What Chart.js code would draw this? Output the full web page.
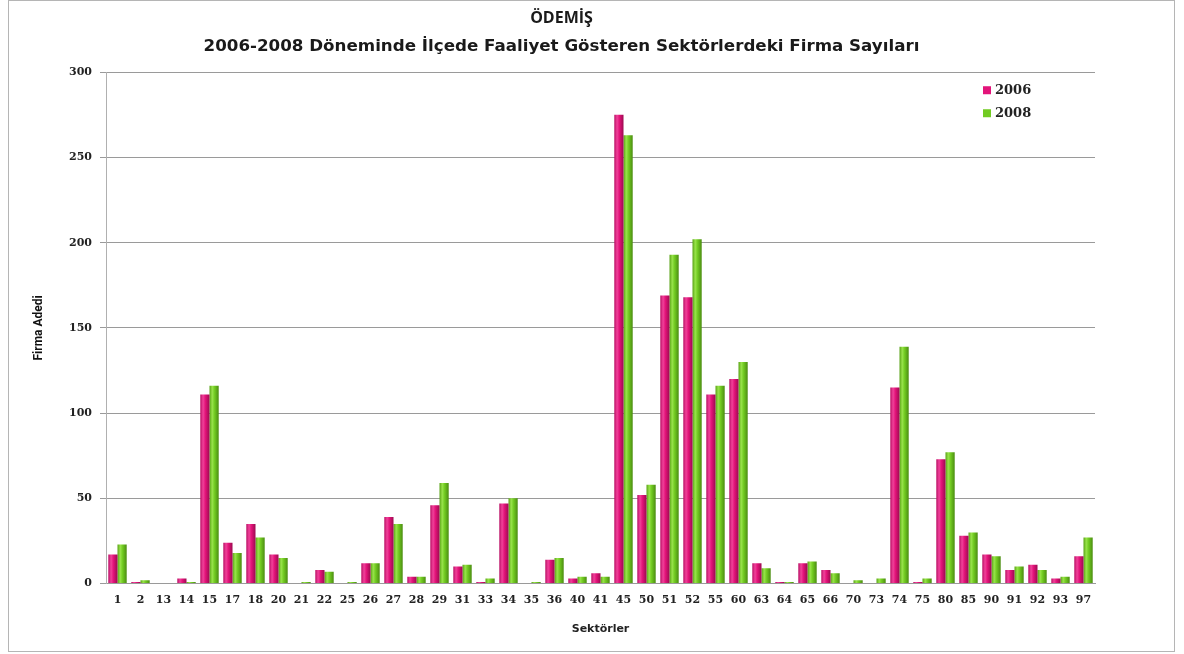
<!DOCTYPE html>
<html>
<head>
<meta charset="utf-8">
<script src="https://cdn.jsdelivr.net/npm/chart.js@4"></script>
<style>
  html, body { margin: 0; padding: 0; background: #fff; }
  #wrap { width: 1184px; height: 654px; }
</style>
</head>
<body>
<div id="wrap"><canvas id="myChart" width="1184" height="654"></canvas></div>
<script>
// sector codes on the x axis
const sectors = ['1', '2', '13', '14', '15', '17', '18', '20', '21', '22', '25', '26', '27', '28', '29',
  '31', '33', '34', '35', '36', '40', '41', '45', '50', '51', '52', '55', '60', '63', '64', '65',
  '66', '70', '73', '74', '75', '80', '85', '90', '91', '92', '93', '97'];

// number of firms per sector
const firms2006 = [17, 1, 0, 3, 111, 24, 35, 17, 0, 8, 0, 12, 39, 4, 46,
  10, 1, 47, 0, 14, 3, 6, 275, 52, 169, 168, 111, 120, 12, 1, 12,
  8, 0, 0, 115, 1, 73, 28, 17, 8, 11, 3, 16];
const firms2008 = [23, 2, 0, 1, 116, 18, 27, 15, 1, 7, 1, 12, 35, 4, 59,
  11, 3, 50, 1, 15, 4, 4, 263, 58, 193, 202, 116, 130, 9, 1, 13,
  6, 2, 3, 139, 3, 77, 30, 16, 10, 8, 4, 27];

const yTicks = [0, 50, 100, 150, 200, 250, 300];

const pink = '#e3147a';
const green = '#72cb22';
const catPct = 0.8;
const tickFont = { family: 'DejaVu Serif', size: 11, weight: 'bold' };

// cylinder-like shading across each bar
function barShade(stops, flat) {
    return (context) => {
        const chart = context.chart;
        const xs = chart.scales.x;
        if (!chart.chartArea || !xs || context.dataIndex === undefined) return flat;
        const cw = xs.width / chart.data.labels.length;
        const mid = xs.getPixelForValue(context.dataIndex);
        const half = cw * catPct / 2;
        const x0 = context.datasetIndex === 0 ? mid - half : mid;
        const g = chart.ctx.createLinearGradient(x0, 0, x0 + half, 0);
        stops.forEach(s => g.addColorStop(s[0], s[1]));
        return g;
    };
}

// grey frame round the whole chart
const framePlugin = {
    id: 'frame',
    beforeDraw(chart) {
        const c = chart.ctx;
        c.save();
        c.fillStyle = '#fff';
        c.fillRect(0, 0, chart.width, chart.height);
        c.strokeStyle = '#b5b5b5';
        c.lineWidth = 1;
        c.strokeRect(8.5, 0.5, chart.width - 18, chart.height - 3);
        c.restore();
    }
};

// small legend in the top right of the plot
const legendPlugin = {
    id: 'cornerLegend',
    afterDraw(chart) {
        const c = chart.ctx;
        const area = chart.chartArea;
        c.save();
        c.font = 'bold 13px "DejaVu Serif"';
        c.textBaseline = 'middle';
        chart.data.datasets.forEach((ds, i) => {
            const x = area.right - 112;
            const y = area.top + 18 + i * 23;
            c.fillStyle = ds.legendColor;
            c.fillRect(x, y - 4, 8, 8);
            c.fillStyle = '#222';
            c.fillText(ds.label, x + 12, y);
        });
        c.restore();
    }
};

const ctx = document.getElementById('myChart').getContext('2d');
const myChart = new Chart(ctx, {
    type: 'bar',
    data: {
        labels: sectors,
        datasets: [
            {
                label: '2006',
                data: firms2006,
                legendColor: pink,
                backgroundColor: barShade([[0, '#b80d63'], [0.3, '#f0429a'], [0.55, '#e3147a'], [1, '#9c0a50']], pink),
                barPercentage: 1.0,
                categoryPercentage: catPct
            },
            {
                label: '2008',
                data: firms2008,
                legendColor: green,
                backgroundColor: barShade([[0, '#58a214'], [0.3, '#98e34a'], [0.55, '#72cb22'], [1, '#4a8c10']], green),
                barPercentage: 1.0,
                categoryPercentage: catPct
            }
        ]
    },
    options: {
        responsive: false,
        animation: false,
        layout: { padding: { left: 28, right: 89, top: 6, bottom: 14 } },
        plugins: {
            legend: { display: false },
            tooltip: { enabled: false },
            title: {
                display: true,
                text: 'ÖDEMİŞ',
                color: '#1a1a1a',
                font: { family: 'Open Sans', size: 16, weight: 'bold' },
                padding: { top: 3, bottom: 6 }
            },
            subtitle: {
                display: true,
                text: '2006-2008 Döneminde İlçede Faaliyet Gösteren Sektörlerdeki Firma Sayıları',
                color: '#1a1a1a',
                font: { family: 'DejaVu Sans', size: 16.7, weight: 'bold' },
                padding: { top: 2, bottom: 16 }
            }
        },
        scales: {
            x: {
                grid: { display: false, drawTicks: false },
                border: { display: true, color: '#9a9a9a' },
                ticks: { color: '#222', font: tickFont, padding: 10, maxRotation: 0, autoSkip: false },
                title: {
                    display: true,
                    text: 'Sektörler',
                    color: '#222',
                    font: { family: 'DejaVu Sans', size: 11, weight: 'bold' },
                    padding: { top: 6 }
                }
            },
            y: {
                min: 0,
                max: 300,
                afterBuildTicks: axis => { axis.ticks = yTicks.map(v => ({ value: v })); },
                afterFit: axis => { axis.width = 78; },
                grid: { color: '#9a9a9a', tickLength: 6, tickColor: '#9a9a9a' },
                border: { display: true, color: '#b0b0b0' },
                ticks: { color: '#222', font: tickFont, padding: 8 },
                title: {
                    display: true,
                    text: 'Firma Adedi',
                    color: '#111',
                    font: { family: 'Roboto', size: 12, weight: 'bold' },
                    padding: { bottom: 14 }
                }
            }
        }
    },
    plugins: [framePlugin, legendPlugin]
});
</script>
</body>
</html>
